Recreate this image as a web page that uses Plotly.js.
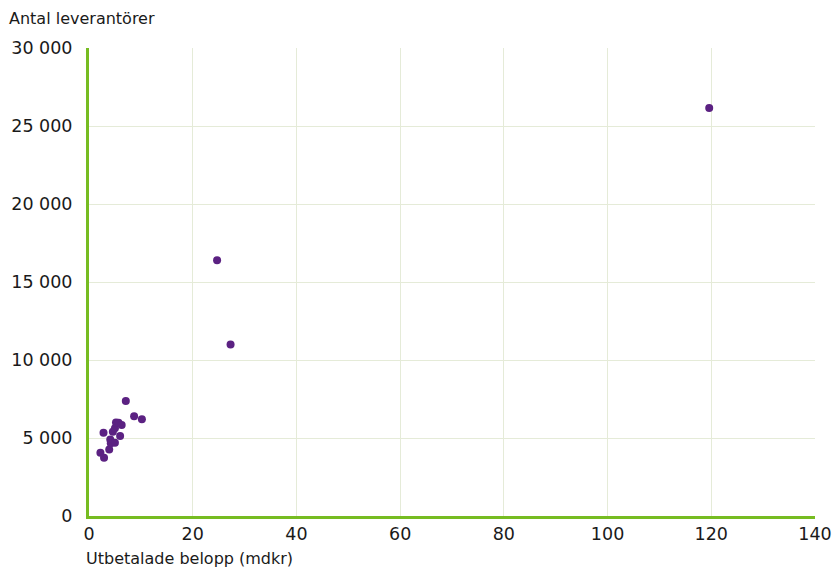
<!DOCTYPE html>
<html>
<head>
<meta charset="utf-8">
<script src="https://cdn.plot.ly/plotly-3.0.1.min.js"></script>
<style>html,body{margin:0;padding:0;background:#fff;}#chart{width:838px;height:569px;}</style>
</head>
<body>
<div id="chart"></div>
<script>
// Utbetalade belopp (mdkr)
const amount = [2.2, 2.9, 2.8, 3.9, 4.1, 4.2, 4.6, 5.0, 5.0, 5.2, 5.7, 6.3, 6.0, 7.1, 8.7, 10.2, 24.7, 27.3, 119.6];
// Antal leverantörer
const suppliers = [4060, 3740, 5340, 4270, 4900, 4660, 5400, 4700, 5620, 6000, 5980, 5830, 5130, 7370, 6400, 6200, 16400, 11000, 26150];
const xTicks = [0, 20, 40, 60, 80, 100, 120, 140];
const yTicks = [0, 5000, 10000, 15000, 20000, 25000, 30000];

const fam = '"DejaVu Sans", sans-serif';
const font = {family: fam, size: 17.5, color: '#1a1a1a'};
const tfont = {family: fam, size: 16, color: '#1a1a1a'};

Plotly.newPlot('chart', [{
  type: 'scatter', mode: 'markers',
  x: amount, y: suppliers,
  marker: {size: 8, color: '#5b2182'},
  hoverinfo: 'x+y'
}], {
  width: 838, height: 569,
  margin: {l: 89, r: 23, t: 48, b: 53},
  paper_bgcolor: '#fff', plot_bgcolor: '#fff',
  separators: ', ',
  font: font,
  showlegend: false,
  xaxis: {
    range: [0, 140], tickvals: xTicks, ticktext: xTicks.map(String),
    showgrid: true, gridcolor: '#e5ebd8', gridwidth: 1,
    zeroline: false, showline: true, linecolor: '#76bc21', linewidth: 3,
    ticks: '', tickfont: font, automargin: false
  },
  yaxis: {
    range: [0, 30000], tickvals: yTicks, tickformat: ',d',
    showgrid: true, gridcolor: '#e5ebd8', gridwidth: 1,
    zeroline: false, showline: true, linecolor: '#76bc21', linewidth: 3,
    ticks: '', tickfont: font, ticklabelstandoff: 10, automargin: false
  },
  annotations: [
    {text: 'Antal leverantörer', xref: 'paper', yref: 'paper', x: -89/726, y: 1 + 30/468,
     xanchor: 'left', yanchor: 'middle', showarrow: false, font: tfont, xshift: 7},
    {text: 'Utbetalade belopp (mdkr)', xref: 'paper', yref: 'paper', x: 0, y: -42/468,
     xanchor: 'left', yanchor: 'middle', showarrow: false, font: tfont, xshift: -5}
  ]
}, {displayModeBar: false, staticPlot: true});
</script>
</body>
</html>
